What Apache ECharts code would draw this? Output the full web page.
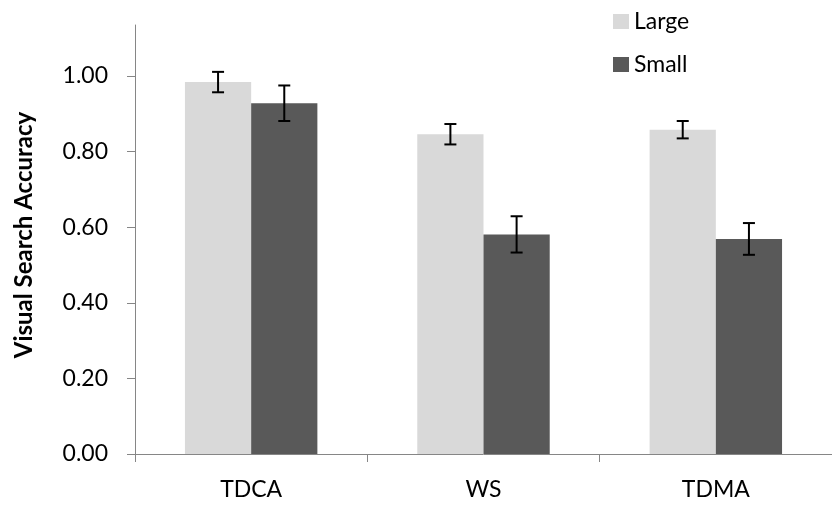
<!DOCTYPE html>
<html>
<head>
<meta charset="utf-8">
<script src="https://cdn.jsdelivr.net/npm/echarts@6/dist/echarts.min.js"></script>
<style>
  html, body { margin: 0; padding: 0; background: #fff; }
  #chart { width: 832px; height: 506px; }
</style>
</head>
<body>
<div id="chart"></div>
<script>
// Conditions on the category axis
const categories = ['TDCA', 'WS', 'TDMA'];
// Mean accuracy per condition
const largeValues = [0.984, 0.846, 0.858];
const smallValues = [0.928, 0.581, 0.569];
// Half-length of each error bar
const largeErrors = [0.027, 0.027, 0.023];
const smallErrors = [0.047, 0.048, 0.042];
// Labelled ticks on the value axis
const yTicks = [0, 0.2, 0.4, 0.6, 0.8, 1.0];

const FONT = 'Lato';
const BAR_FRACTION = 0.285;

// Error bars drawn on top of a bar, shifted to that bar's centre in the group
function errorBarSeries(values, errors, side) {
  return {
    type: 'custom',
    z: 10,
    silent: true,
    data: values.map((v, i) => [i, v - errors[i], v + errors[i]]),
    renderItem: function (params, api) {
      const band = api.size([1, 0])[0];
      const dx = side * band * BAR_FRACTION / 2;
      const lo = api.coord([api.value(0), api.value(1)]);
      const hi = api.coord([api.value(0), api.value(2)]);
      const x = lo[0] + dx;
      const cap = 6;
      const style = { stroke: '#000', lineWidth: 2 };
      return {
        type: 'group',
        children: [
          { type: 'line', shape: { x1: x, y1: lo[1], x2: x, y2: hi[1] }, style: style },
          { type: 'line', shape: { x1: x - cap, y1: hi[1], x2: x + cap, y2: hi[1] }, style: style },
          { type: 'line', shape: { x1: x - cap, y1: lo[1], x2: x + cap, y2: lo[1] }, style: style }
        ]
      };
    }
  };
}

const chart = echarts.init(document.getElementById('chart'), null, { renderer: 'canvas' });
chart.setOption({
  animation: false,
  backgroundColor: '#fff',
  textStyle: { fontFamily: FONT },
  grid: { left: 135, right: -7, top: 25, bottom: 52, containLabel: false },
  // Rotated value-axis title
  graphic: [{
    type: 'text',
    x: 24,
    y: 235,
    rotation: Math.PI / 2,
    style: {
      text: 'Visual Search Accuracy',
      fontFamily: FONT,
      fontSize: 24,
      fontWeight: 'bold',
      fill: '#000',
      align: 'center',
      verticalAlign: 'middle'
    }
  }],
  legend: {
    orient: 'vertical',
    left: 608,
    top: 5,
    itemWidth: 16,
    itemHeight: 15,
    itemGap: 20,
    icon: 'rect',
    data: ['Large', 'Small'],
    textStyle: { fontFamily: FONT, fontSize: 23, color: '#000' }
  },
  xAxis: {
    type: 'category',
    data: categories,
    axisLine: { lineStyle: { color: '#868686', width: 1 } },
    axisTick: { show: true, length: 8, lineStyle: { color: '#868686' } },
    axisLabel: { fontFamily: FONT, fontSize: 23, color: '#000', margin: 24 },
    splitLine: { show: false }
  },
  yAxis: {
    type: 'value',
    min: 0,
    max: 1.135,
    axisLine: { show: true, lineStyle: { color: '#868686', width: 1 } },
    axisTick: { show: true, length: 8, customValues: yTicks, lineStyle: { color: '#868686' } },
    axisLabel: {
      fontFamily: FONT, fontSize: 23, color: '#000', margin: 27,
      customValues: yTicks,
      formatter: v => v.toFixed(2)
    },
    splitLine: { show: false }
  },
  series: [
    {
      name: 'Large',
      type: 'bar',
      data: largeValues,
      barWidth: (BAR_FRACTION * 100) + '%',
      barGap: '0%',
      itemStyle: { color: '#D9D9D9' }
    },
    {
      name: 'Small',
      type: 'bar',
      data: smallValues,
      barWidth: (BAR_FRACTION * 100) + '%',
      barGap: '0%',
      itemStyle: { color: '#595959' }
    },
    errorBarSeries(largeValues, largeErrors, -1),
    errorBarSeries(smallValues, smallErrors, 1)
  ]
});
</script>
</body>
</html>
